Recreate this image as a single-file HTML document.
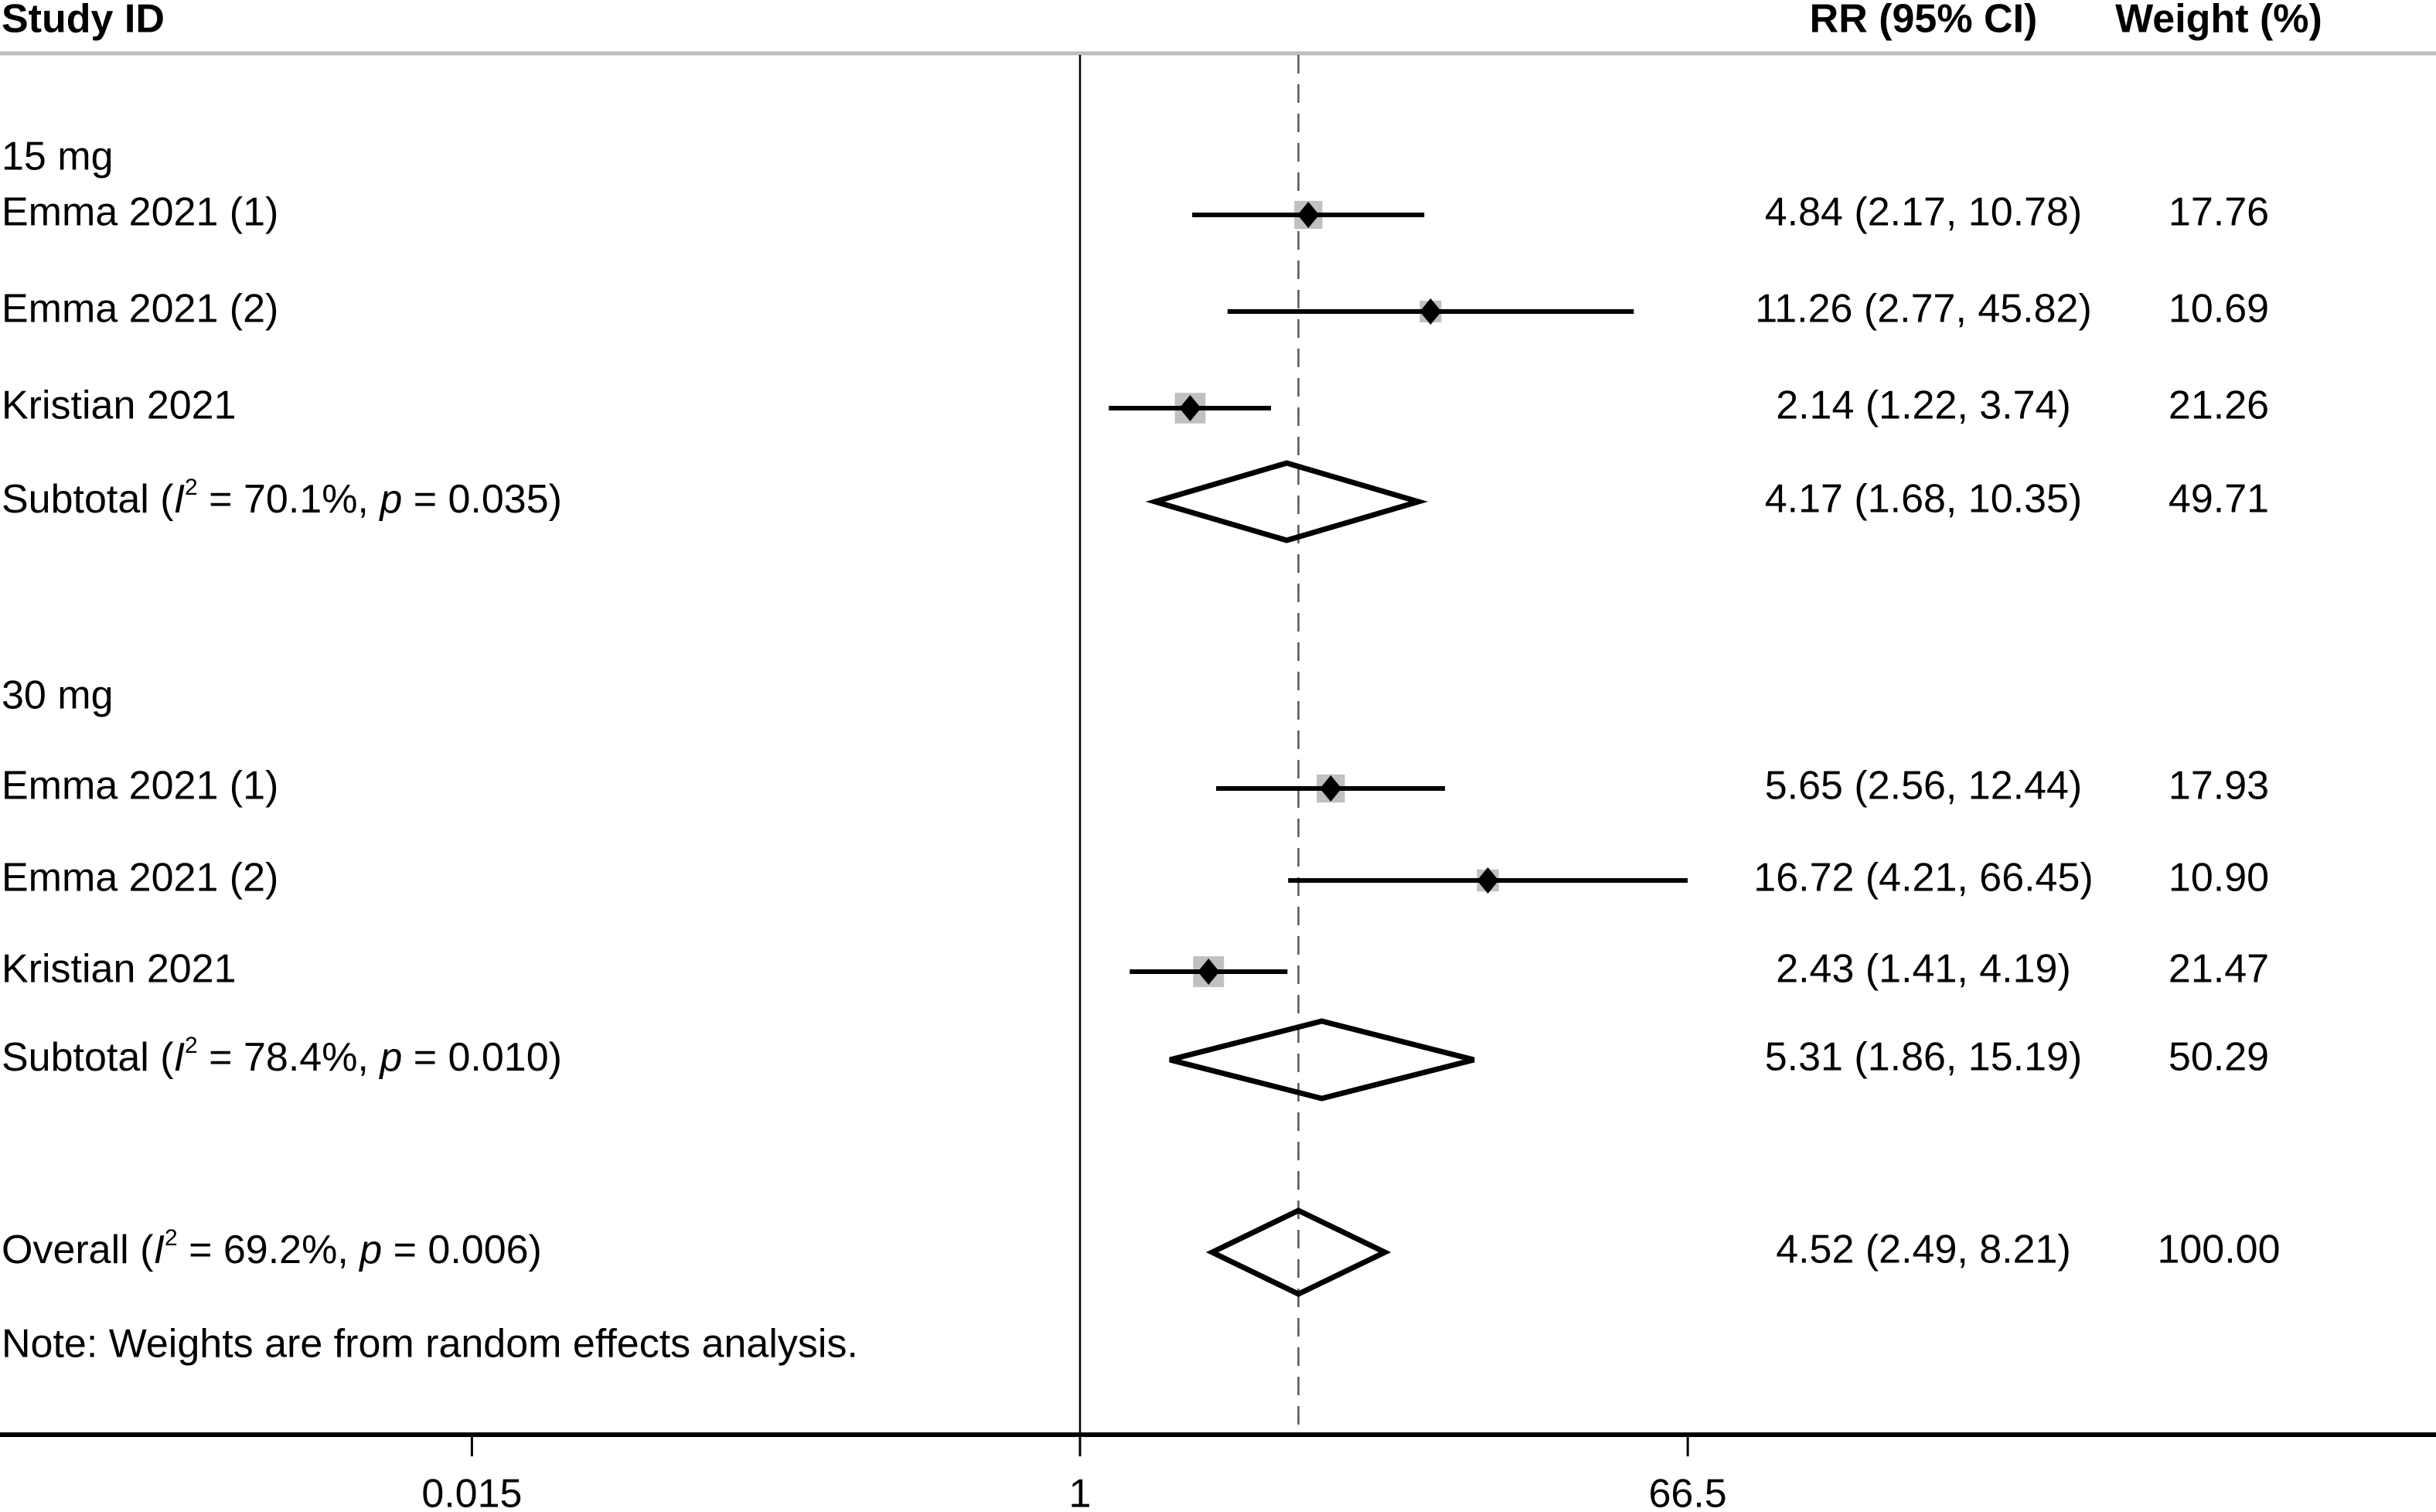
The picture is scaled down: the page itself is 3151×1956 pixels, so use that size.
<!DOCTYPE html>
<html><head><meta charset="utf-8"><style>
html,body{margin:0;padding:0;background:#fff;}
svg{display:block;}
text{font-family:"Liberation Sans",sans-serif;font-size:52px;fill:#000;}
</style></head><body>
<svg id="c" width="3151" height="1956" viewBox="0 0 3151 1956"></svg>
<script>
const studyLabels=["Emma 2021 (1)","Emma 2021 (2)","Kristian 2021","Emma 2021 (1)","Emma 2021 (2)","Kristian 2021"];
const studyRR=[4.84,11.26,2.14,5.65,16.72,2.43];
const studyLo=[2.17,2.77,1.22,2.56,4.21,1.41];
const studyHi=[10.78,45.82,3.74,12.44,66.45,4.19];
const studyW=[17.76,10.69,21.26,17.93,10.90,21.47];
const studyRowY=[278,403,528,1020,1139,1257];
const poolRR=[4.17,5.31,4.52];
const poolLo=[1.68,1.86,2.49];
const poolHi=[10.35,15.19,8.21];
const poolW=[49.71,50.29,100.00];
const poolI2=["70.1%","78.4%","69.2%"];
const poolP=["0.035","0.010","0.006"];
const poolNames=["Subtotal","Subtotal","Overall"];
const poolRowY=[649,1371,1620];
const poolHalfH=[50,50,54];
const tickVals=[0.015,1,66.5];
const tickLabels=["0.015","1","66.5"];

const svg=document.getElementById('c');
const NS='http://www.w3.org/2000/svg';
const X0=1397,K=187.3;
function xs(v){return X0+K*Math.log(v);}
function el(tag,attrs,parent){const e=document.createElementNS(NS,tag);for(const k in attrs)e.setAttribute(k,attrs[k]);(parent||svg).appendChild(e);return e;}
function txt(x,y,s,anchor,weight){const t=el('text',{x:x,y:y,'text-anchor':anchor||'start','dominant-baseline':'middle'});if(weight)t.setAttribute('font-weight',weight);t.textContent=s;return t;}
const fmt=v=>v.toFixed(2);

let t=txt(2,28,"Study ID","start","bold");


t=txt(2488,28,"RR (95% CI)","middle","bold");


t=txt(2870,28,"Weight (%)","middle","bold");


let ln=el('line',{x1:0,x2:3151,y1:69,y2:69,stroke:'#bdbdbd','stroke-width':5});



ln=el('line',{x1:xs(1),x2:xs(1),y1:71,y2:1853,stroke:'#000','stroke-width':2.5});


ln=el('line',{x1:xs(poolRR[2]),x2:xs(poolRR[2]),y1:71,y2:1853,stroke:'#555','stroke-width':2.5,'stroke-dasharray':'24 14'});



t=txt(2,206,"15 mg");


t=txt(2,903,"30 mg");



for(let i=0;i<studyLabels.length;i++){
  const y=studyRowY[i];
  t=txt(2,y,studyLabels[i]);
  
  
  const s=8.6*Math.sqrt(studyW[i]);
  const sq=el('rect',{x:xs(studyRR[i])-s/2,y:y-s/2,width:s,height:s,fill:'#c0c0c0'});
  
  
  const ci=el('line',{x1:xs(studyLo[i]),x2:xs(studyHi[i]),y1:y,y2:y,stroke:'#000','stroke-width':6});
  
  
  const cx=xs(studyRR[i]);
  const d=el('polygon',{points:`${cx},${y-17} ${cx+14},${y} ${cx},${y+17} ${cx-14},${y}`,fill:'#000'});
  
  
  t=txt(2488,y,`${fmt(studyRR[i])} (${fmt(studyLo[i])}, ${fmt(studyHi[i])})`,"middle");
  
  
  t=txt(2870,y,fmt(studyW[i]),"middle");
  
  
}

for(let i=0;i<poolRR.length;i++){
  const y=poolRowY[i];
  const t2=el('text',{x:2,y:y,'dominant-baseline':'middle'});
  
  
  const parts=[[poolNames[i]+" (",''],["I",'italic'],["2",'sup'],[" = "+poolI2[i]+", ",''],["p",'italic'],[" = "+poolP[i]+")",'']];
  for(const [s,st] of parts){
    const ts=el('tspan',{},t2);
    if(st==='italic')ts.setAttribute('font-style','italic');
    if(st==='sup'){ts.setAttribute('font-size','30');ts.setAttribute('dy','-17');}
    if(s.startsWith(" = "+poolI2[i])){ts.setAttribute('dy','17');}
    ts.textContent=s;
  }
  const h=poolHalfH[i];
  const d=el('polygon',{points:`${xs(poolLo[i])},${y} ${xs(poolRR[i])},${y-h} ${xs(poolHi[i])},${y} ${xs(poolRR[i])},${y+h}`,fill:'none',stroke:'#000','stroke-width':7});
  
  
  t=txt(2488,y,`${fmt(poolRR[i])} (${fmt(poolLo[i])}, ${fmt(poolHi[i])})`,"middle");
  
  
  t=txt(2870,y,fmt(poolW[i]),"middle");
  
  
}

t=txt(2,1742,"Note: Weights are from random effects analysis.");



ln=el('line',{x1:0,x2:3151,y1:1856,y2:1856,stroke:'#000','stroke-width':6});


for(let i=0;i<tickVals.length;i++){
  const x=xs(tickVals[i]);
  const tk=el('line',{x1:x,x2:x,y1:1856,y2:1884,stroke:'#000','stroke-width':3});
  
  
  t=txt(x,1936,tickLabels[i],"middle");
  
  
}
</script>
</body></html>
